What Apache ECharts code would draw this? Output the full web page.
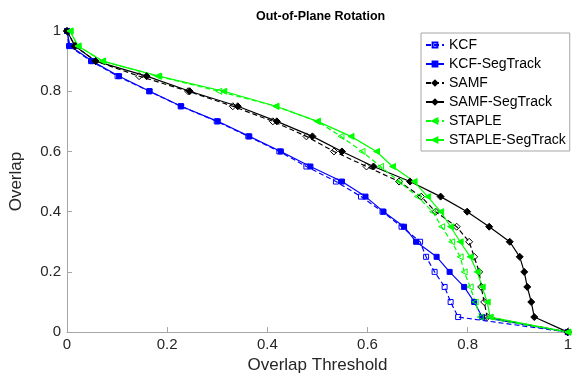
<!DOCTYPE html>
<html>
<head>
<meta charset="utf-8">
<script src="https://cdn.jsdelivr.net/npm/echarts@6/dist/echarts.min.js"></script>
<style>
  html, body { margin: 0; padding: 0; background: #fff; }
  #chart { width: 575px; height: 379px; }
</style>
</head>
<body>
<div id="chart"></div>
<script>
// Success levels (overlap rate) at which each tracker's threshold is sampled
const overlapLevels = [1, 0.95, 0.9, 0.85, 0.8, 0.75, 0.7, 0.65, 0.6, 0.55, 0.5,
                       0.45, 0.4, 0.35, 0.3, 0.25, 0.2, 0.15, 0.1, 0.05, 0];

// Overlap threshold reached at each level, per tracker
const kcf       = [0, 0.004, 0.048, 0.101, 0.164, 0.227, 0.299, 0.362, 0.424, 0.478, 0.537,
                   0.587, 0.630, 0.668, 0.705, 0.717, 0.734, 0.754, 0.766, 0.781, 1];
const kcfSeg    = [0, 0.006, 0.050, 0.104, 0.165, 0.228, 0.301, 0.364, 0.427, 0.486, 0.549,
                   0.596, 0.632, 0.673, 0.697, 0.738, 0.764, 0.793, 0.813, 0.829, 1];
const samf      = [0, 0.016, 0.057, 0.144, 0.242, 0.331, 0.411, 0.478, 0.533, 0.598, 0.663,
                   0.707, 0.736, 0.778, 0.803, 0.813, 0.823, 0.827, 0.833, 0.839, 1];
const samfSeg   = [0, 0.016, 0.057, 0.159, 0.245, 0.341, 0.419, 0.490, 0.549, 0.612, 0.685,
                   0.746, 0.799, 0.843, 0.884, 0.904, 0.913, 0.919, 0.927, 0.933, 1];
const staple    = [0.006, 0.022, 0.071, 0.181, 0.303, 0.417, 0.500, 0.547, 0.589, 0.626, 0.663,
                   0.700, 0.730, 0.748, 0.768, 0.785, 0.793, 0.805, 0.815, 0.825, 1];
const stapleSeg = [0.006, 0.022, 0.071, 0.183, 0.313, 0.417, 0.500, 0.567, 0.618, 0.650, 0.693,
                   0.720, 0.746, 0.766, 0.785, 0.805, 0.819, 0.829, 0.839, 0.845, 1];

const seriesNames = ['KCF', 'KCF-SegTrack', 'SAMF', 'SAMF-SegTrack', 'STAPLE', 'STAPLE-SegTrack'];
const tickValues = [0, 0.2, 0.4, 0.6, 0.8, 1];

const FONT = '"Liberation Sans", Arial, sans-serif';
const BLUE = '#0000ff', BLACK = '#000000', GREEN = '#00ff00';
const TRI_LEFT = 'path://M0,5 L10,0 L10,10 Z';

function pairs(xs) {
  return xs.map((x, i) => [x, overlapLevels[i]]);
}

function makeSeries(name, xs, color, dashed, symbol, size, filled) {
  return {
    name: name,
    type: 'line',
    data: pairs(xs),
    symbol: symbol,
    symbolSize: size,
    showAllSymbol: true,
    animation: false,
    lineStyle: { color: color, width: 1.2, type: dashed ? [5, 3] : 'solid' },
    itemStyle: {
      color: filled ? color : 'rgba(255,255,255,0)',
      borderColor: color,
      borderWidth: 1
    },
    emphasis: { disabled: true }
  };
}

const labelFormatter = v => String(tickValues.find(t => Math.abs(t - v) < 1e-9) ?? v);

const chart = echarts.init(document.getElementById('chart'), null, { renderer: 'canvas' });

chart.setOption({
  backgroundColor: '#ffffff',
  animation: false,
  title: {
    text: 'Out-of-Plane Rotation',
    left: 251, top: 5,
    textStyle: { fontFamily: FONT, fontSize: 12.5, fontWeight: 'bold', color: '#000' }
  },
  legend: {
    orient: 'vertical',
    left: 421, top: 33,
    padding: [5, 4, 4, 4],
    itemWidth: 18, itemHeight: 6, itemGap: 5,
    backgroundColor: '#fff',
    borderColor: '#a6a6a6', borderWidth: 1,
    textStyle: { fontFamily: FONT, fontSize: 14, color: '#000' },
    data: seriesNames
  },
  grid: { left: 64, right: 3, top: 31, bottom: 46, containLabel: false },
  xAxis: {
    type: 'value', min: 0, max: 1, interval: 0.2,
    name: 'Overlap Threshold', nameLocation: 'middle', nameGap: 24,
    nameTextStyle: { fontFamily: FONT, fontSize: 17, color: '#262626' },
    axisLine: { lineStyle: { color: '#a6a6a6', width: 1 } },
    axisTick: { inside: true, length: 5, lineStyle: { color: '#a6a6a6' } },
    axisLabel: { fontFamily: FONT, fontSize: 15, color: '#262626', margin: 5,
                 formatter: labelFormatter },
    splitLine: { show: false }
  },
  yAxis: {
    type: 'value', min: 0, max: 1, interval: 0.2,
    name: 'Overlap', nameLocation: 'middle', nameGap: 42,
    nameTextStyle: { fontFamily: FONT, fontSize: 17, color: '#262626' },
    axisLine: { show: true, lineStyle: { color: '#a6a6a6', width: 1 } },
    axisTick: { show: true, inside: true, length: 5, lineStyle: { color: '#a6a6a6' } },
    axisLabel: { fontFamily: FONT, fontSize: 15, color: '#262626', margin: 6,
                 formatter: labelFormatter },
    splitLine: { show: false }
  },
  series: [
    makeSeries('KCF', kcf, BLUE, true, 'rect', 5, false),
    makeSeries('KCF-SegTrack', kcfSeg, BLUE, false, 'rect', 5, true),
    makeSeries('SAMF', samf, BLACK, true, 'diamond', 7, false),
    makeSeries('SAMF-SegTrack', samfSeg, BLACK, false, 'diamond', 7, true),
    makeSeries('STAPLE', staple, GREEN, true, TRI_LEFT, 6, false),
    makeSeries('STAPLE-SegTrack', stapleSeg, GREEN, false, TRI_LEFT, 6, true)
  ]
});
</script>
</body>
</html>
